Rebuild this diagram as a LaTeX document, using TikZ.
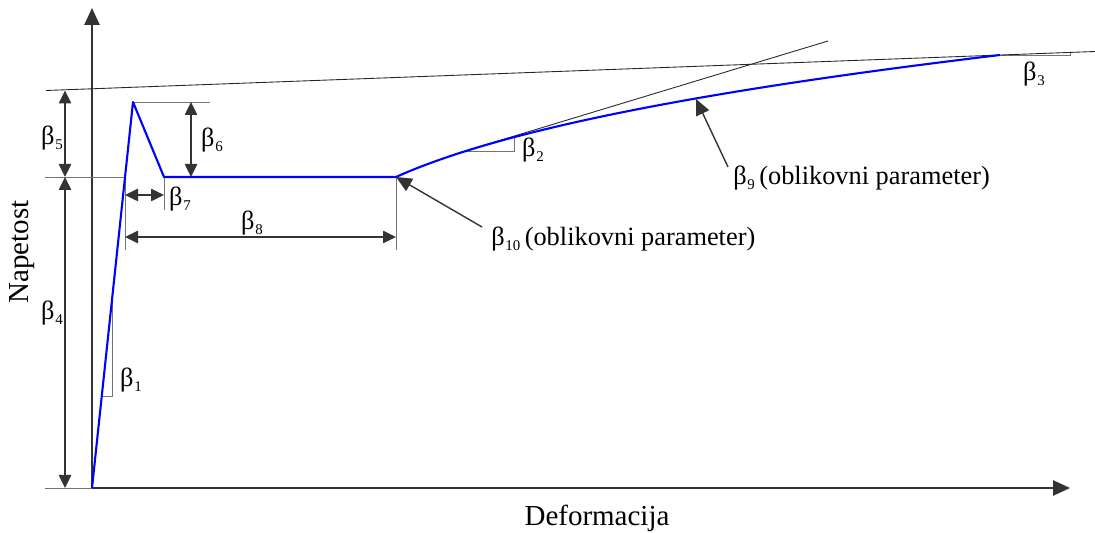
\documentclass[tikz,border=0pt]{standalone}
\usepackage{fontspec}
\setmainfont{Liberation Serif}
\usetikzlibrary{arrows.meta,positioning,calc}

% beta with a small low index
\newcommand{\bsub}[1]{β\kern0.4pt\raisebox{-0.45ex}{\fontsize{8.5}{9}\selectfont #1}}

\begin{document}
\begin{tikzpicture}[
    x=0.02cm, y=-0.02cm,
    axis/.style={draw=black!80, line width=1.1pt, -{Triangle[length=9.6pt,width=8.6pt]}},
    dim/.style={draw=black!80, line width=0.9pt, {Triangle[length=7.4pt,width=7pt]}-{Triangle[length=7.4pt,width=7pt]}},
    helper/.style={draw=black!55, line width=0.5pt},
    tangent/.style={draw=black!85, line width=0.5pt},
    curve/.style={draw=blue, line width=1.2pt, line join=round},
    lead/.style={draw=black!80, line width=0.8pt, -{Triangle[length=9pt,width=8pt]}},
    lbl/.style={font=\fontsize{15}{17}\selectfont, inner sep=0pt},
    axlbl/.style={font=\fontsize{16.5}{19}\selectfont, inner sep=0pt}
]
\useasboundingbox (0,0) rectangle (1095,533);

% key points of the curve
\coordinate (O) at (92,488);
\coordinate (peak) at (133,102);
\coordinate (yld) at (124.5,177);
\coordinate (drop) at (164,177);
\coordinate (hard) at (396,177);
\coordinate (ult) at (1000,55);
\coordinate (c9) at (696,99);

% axes
\draw[axis] (O) -- (92,8);
\draw[axis] (O) -- (1070,488);
\draw[helper] (45,488) -- (O);

% helper lines
\draw[helper] (45,177) -- (yld);
\draw[helper] (peak) -- (210,102);
\draw[helper] (125,177) -- (125,250);
\draw[helper] (drop) -- (164,210);
\draw[helper] (hard) -- (396,250);
\draw[helper] (112.7,299) -- (112.7,396) -- (101.7,396);
\draw[helper] (462,151.7) -- (514.3,151.7) -- (514.3,136);
\draw[helper] (ult) -- (1070,55) -- (1070,52.5);

% tangent lines
\draw[tangent] (46,90.5) -- (1095,51.5);
\draw[tangent] (455,154) -- (828,41);

% model curve
\draw[curve] (O) -- (peak) -- (drop) -- (hard)
    .. controls (516,123) and (750,85) .. (ult);

% dimensions
\draw[dim] (65,90.5) -- (65,177);
\draw[dim] (65,177) -- (65,488);
\draw[dim] (191,102) -- (191,177);
\draw[dim] (125,195) -- (164,195);
\draw[dim] (125,237) -- (396,237);

% labels
\node[lbl] (b1) at (131,380) {\bsub{1}};
\node[lbl] (b2) at (533,150) {\bsub{2}};
\node[lbl] (b3) at (1034,74) {\bsub{3}};
\node[lbl] (b4) at (52,313) {\bsub{4}};
\node[lbl] (b5) at (52,138) {\bsub{5}};
\node[lbl] (b6) at (212,140) {\bsub{6}};
\node[lbl] (b7) at (180,199) {\bsub{7}};
\node[lbl] (b8) at (252,223) {\bsub{8}};
\node[lbl, anchor=west] (b9) at (733,178) {\bsub{9}\,(oblikovni parameter)};
\node[lbl, anchor=west] (b10) at (491,239) {\bsub{10}\,(oblikovni parameter)};

\node[axlbl, rotate=90] (ylab) at (22,252) {Napetost};
\node[axlbl] (xlab) at (597,518) {Deformacija};

% leaders
\coordinate (t9) at (728,167);
\coordinate (t10) at (482,227);
\draw[lead] (t9) -- (c9);
\draw[lead] (t10) -- (hard);
\end{tikzpicture}
\end{document}
